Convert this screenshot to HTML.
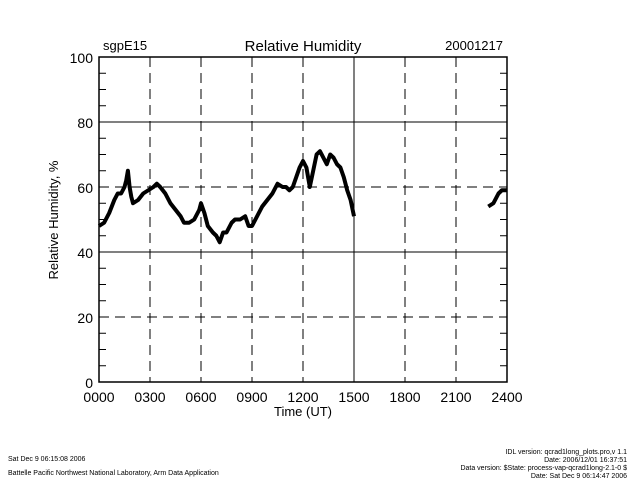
<!DOCTYPE html>
<html><head><meta charset="utf-8"><style>
body{margin:0;background:#fff;width:640px;height:480px;overflow:hidden}
svg text{font-family:"Liberation Sans",sans-serif;fill:#000}
</style></head><body>
<svg id="chart" width="640" height="480">
<text x="103" y="50" font-size="13">sgpE15</text>
<text x="303" y="51" font-size="15" text-anchor="middle">Relative Humidity</text>
<text x="503" y="50" font-size="13" text-anchor="end">20001217</text>
<g id="grid"></g><g id="ticks"></g><g id="series"></g>
<rect x="99" y="57" width="408" height="325" fill="none" stroke="#000" stroke-width="1.5"/>
<text x="303" y="416" font-size="13" text-anchor="middle">Time (UT)</text>
<text transform="translate(58,220) rotate(-90)" font-size="13" text-anchor="middle">Relative Humidity, %</text>
<text x="8" y="461" font-size="7">Sat Dec  9 06:15:08 2006</text>
<text x="8" y="475" font-size="7">Battelle Pacific Northwest National Laboratory, Arm Data Application</text>
<g font-size="7" text-anchor="end">
<text x="627" y="454">IDL version: qcrad1long_plots.pro,v 1.1</text>
<text x="627" y="462">Date: 2006/12/01 16:37:51</text>
<text x="627" y="470">Data version: $State: process-vap-qcrad1long-2.1-0 $</text>
<text x="627" y="478">Date: Sat Dec  9 06:14:47 2006</text>
</g>
</svg>
<script>
const xTicks=[0,3,6,9,12,15,18,21,24];
const xLabels=["0000","0300","0600","0900","1200","1500","1800","2100","2400"];
const yTicks=[0,20,40,60,80,100];
const seg1Hours=[0,0.3,0.6,0.9,1.1,1.3,1.5,1.6,1.7,1.8,1.9,2.0,2.3,2.6,2.9,3.2,3.4,3.6,3.9,4.2,4.5,4.8,5.0,5.3,5.6,5.9,6.0,6.2,6.4,6.7,6.9,7.1,7.3,7.5,7.8,8.0,8.3,8.6,8.8,9.0,9.3,9.6,9.9,10.2,10.5,10.8,11.0,11.2,11.4,11.6,11.8,12.0,12.2,12.4,12.6,12.8,13.0,13.2,13.4,13.6,13.8,14.0,14.2,14.4,14.6,14.8,15.0];
const seg1Values=[48,49,52,56,58,58,60,62,65,60,57,55,56,58,59,60,61,60,58,55,53,51,49,49,50,53,55,52,48,46,45,43,46,46,49,50,50,51,48,48,51,54,56,58,61,60,60,59,60,63,66,68,66,60,65,70,71,69,67,70,69,67,66,63,59,56,51];
const seg2Hours=[22.9,23.2,23.5,23.7,24];
const seg2Values=[54,55,58,59,59];
const X=h=>99+h*17, Y=v=>382-v*3.25;
const NS="http://www.w3.org/2000/svg";
function mk(t,a,p){const e=document.createElementNS(NS,t);for(const k in a)e.setAttribute(k,a[k]);document.getElementById(p).appendChild(e);return e;}
xTicks.forEach((h,i)=>{
  if(h>0&&h<24){const l=mk('line',{x1:X(h),x2:X(h),y1:57,y2:382,stroke:'#000','stroke-width':1,'stroke-dasharray':h===15?'none':'10,6'},'grid');
  
  }
  const t=mk('text',{x:X(h),y:402,'font-size':14,'text-anchor':'middle'},'ticks');t.textContent=xLabels[i];
  
  
});
yTicks.forEach(v=>{
  if(v>0&&v<100){const l=mk('line',{x1:99,x2:507,y1:Y(v),y2:Y(v),stroke:'#000','stroke-width':1,'stroke-dasharray':(v===40||v===80)?'none':'10,6'},'grid');
  
  }
  const t=mk('text',{x:93,y:Y(v)+6,'font-size':14,'text-anchor':'end'},'ticks');t.textContent=v;
  
  
});
for(let v=5;v<100;v+=5){
  mk('line',{x1:99,x2:106,y1:Y(v),y2:Y(v),stroke:'#000'},'ticks');
  mk('line',{x1:500,x2:507,y1:Y(v),y2:Y(v),stroke:'#000'},'ticks');
}
[[seg1Hours,seg1Values],[seg2Hours,seg2Values]].forEach(([hs,vs])=>{
  const p=mk('polyline',{points:hs.map((h,i)=>X(h)+','+Y(vs[i])).join(' '),fill:'none',stroke:'#000','stroke-width':4,'stroke-linejoin':'round'},'series');
  
  
});
</script>
</body></html>
